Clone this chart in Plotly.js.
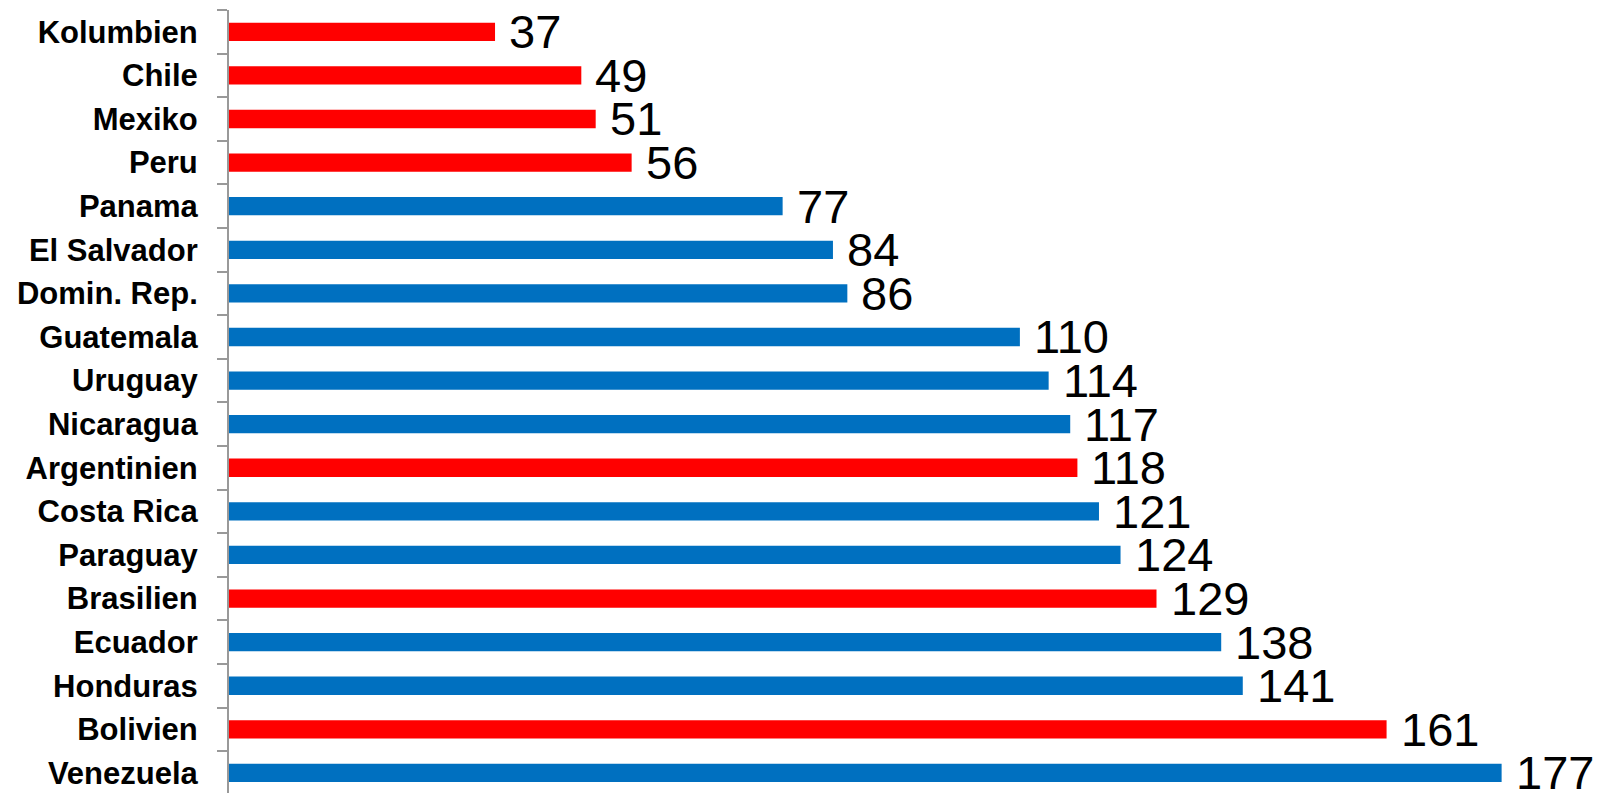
<!DOCTYPE html>
<html>
<head>
<meta charset="utf-8">
<script src="https://cdn.plot.ly/plotly-3.0.1.min.js"></script>
<style>html,body{margin:0;padding:0;background:#fff;}#chart{width:1603px;height:793px;}</style>
</head>
<body>
<div id="chart"></div>
<script>
const countries = ["Kolumbien","Chile","Mexiko","Peru","Panama","El Salvador","Domin. Rep.","Guatemala","Uruguay","Nicaragua","Argentinien","Costa Rica","Paraguay","Brasilien","Ecuador","Honduras","Bolivien","Venezuela"];
const values = [37,49,51,56,77,84,86,110,114,117,118,121,124,129,138,141,161,177];
const groups = ["r","r","r","r","b","b","b","b","b","b","r","b","b","r","b","b","r","b"];
const groupColors = {r:"#FF0000", b:"#0070C0"};

const trace = {
  type: "bar",
  orientation: "h",
  x: values,
  y: countries,
  width: 0.42,
  marker: {color: groups.map(g => groupColors[g])},
  hoverinfo: "none"
};

const annotations = values.map((v, i) => ({
  x: v, y: countries[i], xref: "x", yref: "y",
  text: String(v), showarrow: false, xanchor: "left", yanchor: "middle",
  xshift: 12,
  font: {family: "Liberation Sans, Arial, sans-serif", size: 47, color: "#000"}
}));

const layout = {
  width: 1603, height: 793,
  margin: {l: 229, r: 0, t: 10, b: 0},
  paper_bgcolor: "#fff", plot_bgcolor: "#fff",
  showlegend: false,
  xaxis: {range: [0, 191.1], visible: false, showgrid: false, zeroline: false},
  yaxis: {
    type: "category",
    categoryorder: "array", categoryarray: countries,
    range: [17.46, -0.5],
    showline: true, linecolor: "#999999", linewidth: 2,
    ticks: "outside", tickson: "boundaries", ticklen: 10, tickwidth: 2, tickcolor: "#999999",
    ticklabelstandoff: 23,
    showgrid: false, zeroline: false,
    tickfont: {family: "Liberation Sans, Arial, sans-serif", size: 31, color: "#000", weight: "bold"}
  },
  annotations: annotations
};

Plotly.newPlot("chart", [trace], layout, {staticPlot: true, displayModeBar: false});
</script>
</body>
</html>
